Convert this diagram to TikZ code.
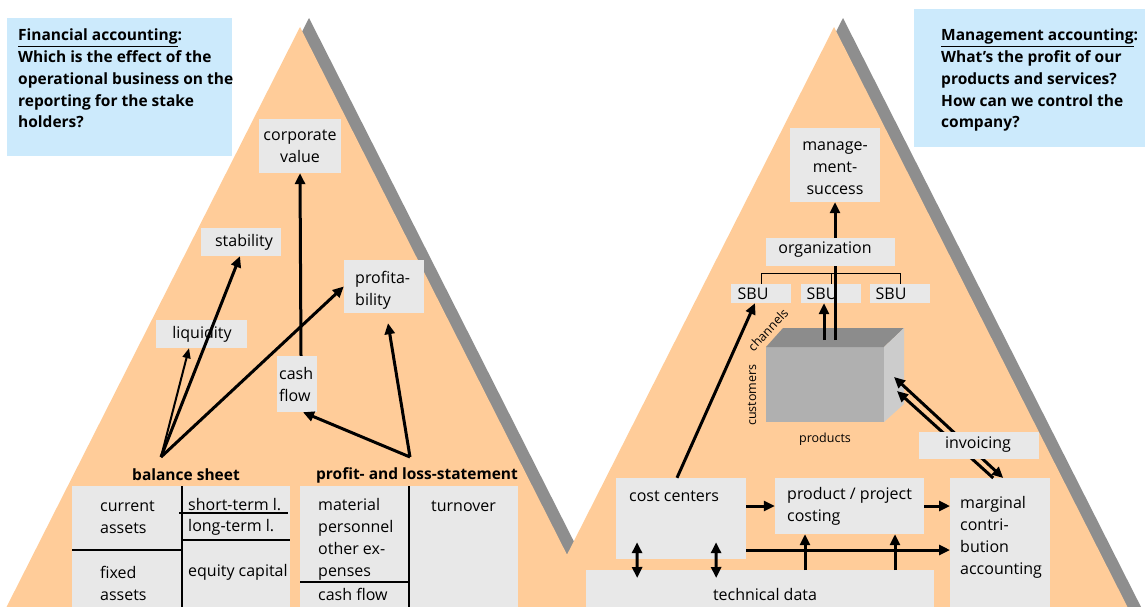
\documentclass[tikz,border=0pt]{standalone}
\usepackage{fontspec}
\setmainfont{Open Sans}
\usetikzlibrary{arrows.meta,calc}
\definecolor{tri}{RGB}{255,204,153}
\definecolor{shad}{RGB}{142,142,142}
\definecolor{boxgray}{RGB}{232,232,232}
\definecolor{qbox}{RGB}{204,234,252}
\definecolor{cubefront}{RGB}{176,176,176}
\definecolor{cubetop}{RGB}{140,140,140}
\definecolor{cuberight}{RGB}{204,204,204}
\begin{document}
\begin{tikzpicture}[x=1pt,y=-1pt,
  gb/.style={fill=boxgray, inner sep=0pt, draw=none},
  tx/.style={font=\fontsize{16}{22}\selectfont, inner sep=0pt, align=left},
  hd/.style={font=\bfseries\fontsize{15.5}{21.75}\selectfont, inner sep=0pt, align=left},
  sm/.style={font=\fontsize{12.5}{15}\selectfont, inner sep=0pt},
  arr/.style={line width=3pt, -{Triangle[length=11pt,width=10pt]}},
  darr/.style={line width=3pt, {Triangle[length=11pt,width=10pt]}-{Triangle[length=11pt,width=10pt]}},
  tl/.style={line width=1.3pt},
]
\useasboundingbox (0,0) rectangle (1145,606);
\clip (0,0) rectangle (1145,606);
% triangles
\fill[shad] (309,18) -- (309+0.506*620,638) -- (309-0.506*620,638) -- cycle;
\fill[tri] (300,27) -- (300+0.506*611,638) -- (300-0.506*611,638) -- cycle;
\fill[shad] (843,18) -- (843+0.506*620,638) -- (843-0.506*620,638) -- cycle;
\fill[tri] (834,27) -- (834+0.506*611,638) -- (834-0.506*611,638) -- cycle;
% question boxes
\node[fill=qbox, inner sep=0pt, minimum width=225pt, minimum height=138pt, anchor=north west] (qL) at (7,18) {};
\node[hd, anchor=north west] (qLT) at (18,29) {\underline{Financial accounting}:\\Which is the effect of the\\operational business on the\\reporting for the stake\\holders?};
\node[fill=qbox, inner sep=0pt, minimum width=232pt, minimum height=138pt, anchor=north west] (qR) at (914,9) {};
\node[hd, anchor=north west] (qRT) at (941,29) {\underline{Management accounting}:\\What’s the profit of our\\products and services?\\How can we control the\\company?};

% ---------- left pyramid ----------
\node[gb, minimum width=82pt, minimum height=54pt] (corp) at (300,146) {};
\node[tx, align=center] (corpT) at (300,146) {corporate\\value};
\node[gb, minimum width=80pt, minimum height=28pt] (stab) at (241,242) {};
\node[tx] (stabT) at (244,242) {stability};
\node[gb, minimum width=80pt, minimum height=53pt] (prof) at (384,286.5) {};
\node[tx, anchor=west] (profT) at (355,290) {profita-\\bility};
\node[gb, minimum width=91pt, minimum height=28pt] (liq) at (201.5,334) {};
\node[tx] (liqT) at (202,334) {liquidity};
\node[gb, minimum width=40pt, minimum height=56pt] (cash) at (297,384) {};
\node[tx, anchor=west] (cashT) at (279,384) {cash\\flow};

\coordinate (bs) at (161,457);
\coordinate (pl) at (410,457);
\draw[line width=2pt, -{Triangle[length=10pt,width=8pt]}] (bs) -- ([xshift=-12.5pt]liq.south);
\draw[arr] (bs) -- ([xshift=-1pt]stab.south);
\draw[arr] (bs) -- (prof.west);
\draw[arr] (pl) -- ([xshift=6pt]cash.south);
\draw[arr] (pl) -- ([xshift=4pt,yshift=-10pt]prof.south);
\draw[arr] ([xshift=4pt]cash.north) -- (corp.south);

\node[hd] (bsL) at (186,475) {balance sheet};
\node[hd] (plL) at (417,475) {profit- and loss-statement};

% balance sheet table
\node[gb, minimum width=218pt, minimum height=125pt, anchor=north west] (bst) at (72,486) {};
\draw[tl] (182,486) -- (182,610);
\draw[tl] (72,550) -- (182,550);
\draw[tl] (179,513) -- (288,513);
\draw[tl] (182,540) -- (290,540);
\node[tx, anchor=west] (ca) at (100,517) {current\\assets};
\node[tx, anchor=west] (fa) at (100,583) {fixed\\assets};
\node[tx, anchor=west] (stl) at (188,505) {short-term l.};
\node[tx, anchor=west] (ltl) at (188,527) {long-term l.};
\node[tx, anchor=west] (eqc) at (188,572) {equity capital};
% P&L table
\node[gb, minimum width=218pt, minimum height=125pt, anchor=north west] (plt) at (300,486) {};
\draw[tl] (409,486) -- (409,610);
\draw[tl] (300,582) -- (409,582);
\node[tx, anchor=west] (exps) at (318,539) {material\\personnel\\other ex-\\penses};
\node[tx, anchor=west] (cfl) at (318,594) {cash flow};
\node[tx, anchor=west] (turn) at (431,506) {turnover};

% ---------- right pyramid ----------
\node[gb, minimum width=90pt, minimum height=74pt] (mgmt) at (835,165) {};
\node[tx, align=center] (mgmtT) at (835,168) {manage-\\ment-\\success};
% cube
\coordinate (cA) at (766,347); \coordinate (cB) at (884,347);
\coordinate (cC) at (884,422); \coordinate (cD) at (766,422);
\coordinate (cE) at (783,328); \coordinate (cF) at (904,328);
\coordinate (cG) at (904,404);
\fill[cubefront] (cA) -- (cB) -- (cC) -- (cD) -- cycle;
\fill[cubetop] (cA) -- (cE) -- (cF) -- (cB) -- cycle;
\fill[cuberight] (cB) -- (cF) -- (cG) -- (cC) -- cycle;
\coordinate (ctA) at (835,340);
\coordinate (ctB) at (824,340);
\node[gb, minimum width=60pt, minimum height=19pt] (sbu1) at (761,293.5) {};
\node[gb, minimum width=60pt, minimum height=19pt] (sbu2) at (831,293.5) {};
\node[gb, minimum width=60pt, minimum height=19pt] (sbu3) at (900,293.5) {};
\node[tx] (sbu1T) at (753,294) {SBU};
\node[tx] (sbu2T) at (822,294) {SBU};
\node[tx] (sbu3T) at (891,294) {SBU};
\draw[line width=1pt] (sbu1.north) -- ++(0,-10) -| (sbu3.north);
\draw[line width=1pt] (sbu2.north) -- ++(0,-10);
\draw[arr] (ctA) -- (ctA |- mgmt.south);
\node[gb, minimum width=129pt, minimum height=28pt] (org) at (830.5,252) {};
\node[tx] (orgT) at (825,250) {organization};
\draw[arr] (ctB) -- (ctB |- sbu2.south);

\node[sm, rotate=90] (custT) at (752,395) {customers};
\node[sm, rotate=47] (chanT) at (768,330) {channels};
\node[sm] (prodT) at (825,439) {products};

% bottom boxes
\node[gb, minimum width=130pt, minimum height=81pt] (cc) at (681,518.5) {};
\node[tx, anchor=west] (ccT) at (629,496) {cost centers};
\node[gb, minimum width=149pt, minimum height=56pt] (pp) at (849.5,506) {};
\node[tx, anchor=west] (ppT) at (787,506) {product / project\\costing};
\node[gb, minimum width=100pt, minimum height=130pt, anchor=north west] (mc) at (950,478) {};
\node[tx, anchor=west] (mcT) at (960,537) {marginal\\contri-\\bution\\accounting};
\node[gb, minimum width=348pt, minimum height=40pt, anchor=north west] (td) at (586,570) {};
\node[tx] (tdT) at (765,594) {technical data};

\draw[arr] ([xshift=-4pt]cc.north) -- ([xshift=-6pt]sbu1.south);
\draw[arr] (cc.east |- pp.west) -- (pp.west);
\draw[arr] (pp.east) -- (pp.east -| mc.west);
\draw[arr] ([yshift=-31.5pt]cc.east) -- ([yshift=-31.5pt]cc.east -| mc.west);
\draw[arr] ([xshift=-44.5pt]pp.south |- td.north) -- ([xshift=-44.5pt]pp.south);
\draw[arr] ([xshift=45.5pt]pp.south |- td.north) -- ([xshift=45.5pt]pp.south);
\coordinate (d1a) at ($(cc.south)+(-44,-17)$);
\coordinate (d1b) at ($(td.north)+(-123,8)$);
\coordinate (d2a) at ($(cc.south)+(35,-17)$);
\coordinate (d2b) at ($(td.north)+(-44,8)$);
\draw[darr] (d1a) -- (d1b);
\draw[darr] (d2a) -- (d2b);

\coordinate (cr1) at (894,377);
\coordinate (cr2) at (897,391);
\coordinate (mt1) at ($(mc.north)+(3,0)$);
\coordinate (mt2) at ($(mc.north)+(-7,0)$);
\draw[darr] (mt1) -- (cr1);
\draw[arr] (mt2) -- (cr2);
\node[gb, minimum width=120pt, minimum height=27pt] (inv) at (979,445.5) {};
\node[tx] (invT) at (978,445) {invoicing};
\end{tikzpicture}
\end{document}
